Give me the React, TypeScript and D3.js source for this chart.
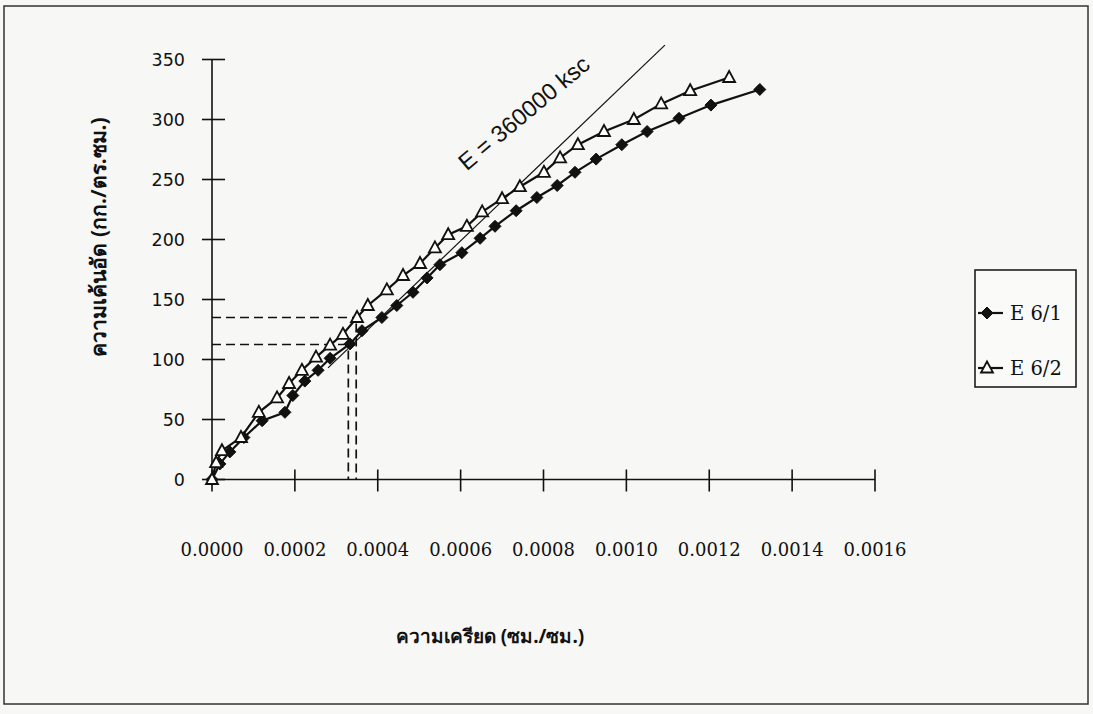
import React from "react";
import * as d3 from "d3";

// ---- data ----
const xTicks = [0, 0.0002, 0.0004, 0.0006, 0.0008, 0.001, 0.0012, 0.0014, 0.0016];
const xTickLabels = ["0.0000", "0.0002", "0.0004", "0.0006", "0.0008", "0.0010", "0.0012", "0.0014", "0.0016"];
const yTicks = [0, 50, 100, 150, 200, 250, 300, 350];

const strainE61 = [0, 0.000019, 0.000043, 0.000077, 0.000121, 0.000176, 0.000195, 0.000224, 0.000256, 0.000285, 0.000333, 0.000362, 0.00041, 0.000446, 0.000485, 0.000519, 0.00055, 0.000603, 0.000647, 0.000683, 0.000734, 0.000784, 0.000833, 0.000876, 0.000927, 0.000989, 0.00105, 0.001127, 0.001204, 0.001322];
const stressE61 = [0, 13, 23, 35, 49, 56, 70, 82, 91, 101, 113, 124, 135, 145, 156, 168, 179, 189, 201, 211, 224, 235, 245, 256, 267, 279, 290, 301, 312, 325];

const strainE62 = [0, 0.00001, 0.000024, 0.00007, 0.000113, 0.000157, 0.000186, 0.000217, 0.000251, 0.000285, 0.000316, 0.00035, 0.000376, 0.000422, 0.000461, 0.000502, 0.000538, 0.00057, 0.000615, 0.000652, 0.0007, 0.000743, 0.000801, 0.00084, 0.000883, 0.000946, 0.001018, 0.001084, 0.001154, 0.001248];
const stressE62 = [0, 14, 24, 35, 56, 68, 80, 91, 102, 112, 121, 135, 145, 158, 170, 180, 193, 204, 211, 223, 234, 244, 256, 268, 279, 290, 300, 313, 324, 335];

const eLineStrain = [0.00028, 0.001093];
const eLineStress = [93, 362];

const guideStrain = [0.000329, 0.000348];
const guideStress = [112.5, 135];

const seriesNames = ["E 6/1", "E 6/2"];

const W = 1093;
const H = 714;

const x = d3.scaleLinear().domain([0, 0.0016]).range([212, 875]);
const y = d3.scaleLinear().domain([0, 350]).range([479.5, 59.5]);

const diamond = "M0,-6L6,0L0,6L-6,0Z";
const triangle = "M0,-6.5L6,4.5L-6,4.5Z";

function zip(xs: number[], ys: number[]) {
  return xs.map((v, i) => [v, ys[i]] as [number, number]);
}

export default function App() {
  const line = d3
    .line<[number, number]>()
    .x((d) => x(d[0]))
    .y((d) => y(d[1]));
  const s61 = zip(strainE61, stressE61);
  const s62 = zip(strainE62, stressE62);
  const eLine = zip(eLineStrain, eLineStress);

  return (
    <svg
      width={W}
      height={H}
      style={{ position: "absolute", left: 0, top: 0, background: "#f7f7f5" }}
    >
      <rect x={4} y={6} width={1084} height={698} fill="none" stroke="#333" strokeWidth={1.5} />

      {/* axes */}
      <line x1={x(0)} x2={x(0.0016)} y1={y(0)} y2={y(0)} stroke="#111" strokeWidth={1.6} />
      <line x1={x(0)} x2={x(0)} y1={y(0)} y2={y(350)} stroke="#111" strokeWidth={1.6} />
      {yTicks.map((t) => (
        <g key={"y" + t}>
          <line x1={x(0) - 10} x2={x(0) + 13} y1={y(t)} y2={y(t)} stroke="#111" strokeWidth={1.6} />
          <text
            x={185}
            y={y(t)}
            textAnchor="end"
            dominantBaseline="central"
            fontFamily="DejaVu Sans, sans-serif"
            fontSize={17.5}
            fill="#111"
          >
            {t}
          </text>
        </g>
      ))}
      {xTicks.map((t, i) => (
        <g key={"x" + i}>
          <line x1={x(t)} x2={x(t)} y1={y(0) - 10} y2={y(0) + 12} stroke="#111" strokeWidth={1.6} />
          <text
            x={x(t)}
            y={556}
            textAnchor="middle"
            fontFamily="DejaVu Serif, serif"
            fontSize={18}
            fill="#111"
          >
            {xTickLabels[i]}
          </text>
        </g>
      ))}

      {/* guide dashed lines */}
      {guideStrain.map((s, i) => (
        <g key={"g" + i} stroke="#111" strokeWidth={1.7} strokeDasharray="9,5" fill="none">
          <line x1={x(0)} x2={x(s) + 4} y1={y(guideStress[i])} y2={y(guideStress[i])} />
          <line x1={x(s)} x2={x(s)} y1={y(guideStress[i]) + 6} y2={y(0)} />
        </g>
      ))}

      {/* E line */}
      <path d={line(eLine) || ""} stroke="#111" strokeWidth={1.2} fill="none" />
      <text
        transform={`translate(524,113) rotate(-40)`}
        textAnchor="middle"
        dominantBaseline="central"
        fontFamily="Liberation Sans, Arial, sans-serif"
        fontSize={23.5}
        fill="#111"
      >
        E = 360000 ksc
      </text>

      {/* series */}
      <path d={line(s61) || ""} stroke="#111" strokeWidth={2.2} fill="none" />
      <path d={line(s62) || ""} stroke="#111" strokeWidth={2.2} fill="none" />
      {s61.map((d, i) => (
        <path key={"d" + i} d={diamond} transform={`translate(${x(d[0])},${y(d[1])})`} fill="#111" stroke="#111" strokeWidth={1} />
      ))}
      {s62.map((d, i) => (
        <path key={"t" + i} d={triangle} transform={`translate(${x(d[0])},${y(d[1])})`} fill="#fff" stroke="#111" strokeWidth={1.8} />
      ))}

      {/* axis titles */}
      <text
        x={490}
        y={636}
        textAnchor="middle"
        dominantBaseline="central"
        fontFamily="Noto Sans, sans-serif"
        fontWeight="bold"
        fontSize={19}
        fill="#111"
      >
        ความเครียด (ซม./ซม.)
      </text>
      <text
        transform="translate(98,237) rotate(-90)"
        textAnchor="middle"
        dominantBaseline="central"
        fontFamily="Noto Sans, sans-serif"
        fontWeight="bold"
        fontSize={21}
        fill="#111"
      >
        ความเค้นอัด (กก./ตร.ซม.)
      </text>

      {/* legend */}
      <rect x={975} y={270} width={101} height={117} fill="#fafaf8" stroke="#111" strokeWidth={1.5} />
      {seriesNames.map((n, i) => {
        const ly = 313 + i * 55;
        return (
          <g key={n}>
            <line x1={978} x2={1003} y1={ly} y2={ly} stroke="#111" strokeWidth={2.2} />
            {i === 0 ? (
              <path d={diamond} transform={`translate(987,${ly})`} fill="#111" stroke="#111" />
            ) : (
              <path d={triangle} transform={`translate(987,${ly})`} fill="#fff" stroke="#111" strokeWidth={1.8} />
            )}
            <text x={1010} y={ly} dominantBaseline="central" fontFamily="DejaVu Serif, serif" fontSize={19.5} fill="#111">
              {n}
            </text>
          </g>
        );
      })}
    </svg>
  );
}
